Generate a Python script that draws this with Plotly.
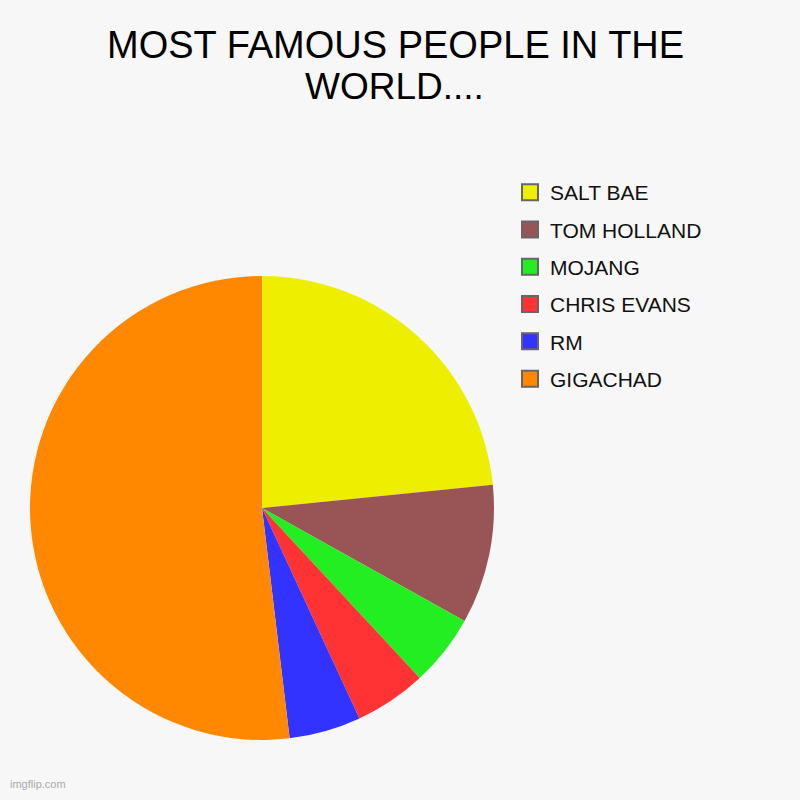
import plotly.graph_objects as go

# slice data (percent), clockwise from 12 o'clock
labels = ["SALT BAE", "TOM HOLLAND", "MOJANG", "CHRIS EVANS", "RM", "GIGACHAD"]
values = [23.4, 9.7, 5.0, 5.0, 5.0, 51.9]
colors = ["#EEEE00", "#995555", "#22EE22", "#FF3333", "#3333FF", "#FF8800"]

title_lines = ["MOST FAMOUS PEOPLE IN THE", "WORLD...."]

fig = go.Figure()

fig.add_trace(go.Pie(
    labels=labels,
    values=values,
    marker=dict(colors=colors, line=dict(width=0)),
    sort=False,
    direction="clockwise",
    rotation=0,
    textinfo="none",
    hoverinfo="label+value",
    showlegend=False,
    domain=dict(x=[30 / 800, 494 / 800], y=[60 / 800, 524 / 800]),
))

# legend entries (square boxes with grey border, like the original)
for lab, col in zip(labels, colors):
    fig.add_trace(go.Scatter(
        x=[None], y=[None],
        mode="markers",
        name=lab,
        legendgroup=lab,
        marker=dict(symbol="square", size=16, color=col,
                    line=dict(color="#666666", width=2)),
    ))

# title as two centred lines
title_ann = []
for txt, xc, yc, fs in zip(title_lines, [395, 394], [45, 86], [38, 37]):
    title_ann.append(dict(
        text=txt, x=xc / 800, y=1 - yc / 800,
        xref="paper", yref="paper", xanchor="center", yanchor="middle",
        showarrow=False, font=dict(size=fs, color="#000000"),
    ))

fig.update_layout(
    width=800, height=800,
    margin=dict(l=0, r=0, t=0, b=0),
    paper_bgcolor="#F7F7F7",
    plot_bgcolor="#F7F7F7",
    font=dict(family="Liberation Sans, Arial, sans-serif", color="#111111"),
    xaxis=dict(visible=False),
    yaxis=dict(visible=False),
    legend=dict(
        x=510 / 800, xanchor="left",
        y=1 - 172 / 800, yanchor="top",
        font=dict(size=21, color="#111111"),
        tracegroupgap=7,
        bgcolor="rgba(0,0,0,0)",
    ),
    annotations=title_ann + [dict(
        text="imgflip.com", x=8 / 800, y=8 / 800,
        xref="paper", yref="paper", xanchor="left", yanchor="bottom",
        showarrow=False, font=dict(size=11, color="#AAAAAA"),
    )],
)

fig.write_html("out.html", config={"displayModeBar": False},
               post_script="document.body.style.margin='0';")
